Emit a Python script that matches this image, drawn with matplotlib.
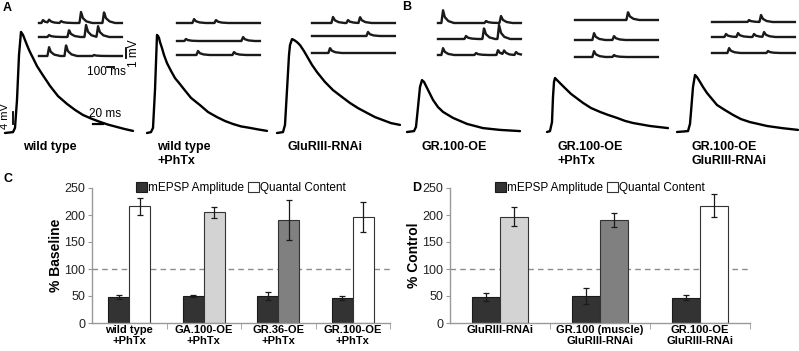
import numpy as np
import matplotlib
matplotlib.use("Agg")
import matplotlib.pyplot as plt
from matplotlib.patches import Patch

plt.rcParams['font.family'] = ['Liberation Sans', 'DejaVu Sans']

# EPSP traces, time (ms) and voltage (mV)
epsp_ms = [
    [0, 16, 20, 24, 28, 32, 36, 40, 44, 48, 52, 56, 64, 74, 82, 90, 106, 124, 140,
     156, 174, 190, 206, 224, 240, 256],
    [0, 8, 12, 16, 20, 22, 24, 26, 30, 34, 40, 48, 56, 64, 72, 88, 106, 122, 140,
     156, 172, 188, 206, 222, 240],
    [0, 12, 16, 20, 24, 26, 30, 34, 40, 46, 54, 62, 70, 80, 96, 112, 130, 146, 162,
     180, 196, 212, 228, 246],
    [0, 14, 18, 22, 26, 30, 34, 40, 46, 52, 62, 72, 82, 92, 106, 120, 136, 152, 186, 226],
    [0, 6, 10, 12, 14, 16, 20, 26, 32, 40, 48, 56, 72, 88, 106, 122, 140, 156, 172,
     206, 242],
    [0, 22, 26, 28, 32, 36, 40, 46, 52, 60, 70, 80, 96, 112, 128, 146, 162, 180, 210, 242],
]
epsp_mv = [
    [0, 0.3, 1.7, 11, 26, 33.7, 32.7, 31, 29.3, 27.7, 26.3, 25, 22.3, 19.7, 17.7, 15.7,
     12.3, 9.7, 7.7, 6, 4.7, 3.7, 2.8, 2, 1.3, 0.7],
    [0, 0.3, 1.7, 14.3, 32.7, 32.3, 31.7, 30.3, 28.3, 26, 23.3, 20.7, 18.3, 16.7, 15,
     11.7, 9.3, 7, 5.3, 4, 3, 2.2, 1.7, 1.2, 0.7],
    [0, 0.3, 2.7, 14.3, 26, 29.3, 31.3, 31, 30.3, 29.3, 27.3, 25, 22.7, 20.3, 17, 14.3,
     12, 10, 8.3, 6.7, 5.3, 4.3, 3.3, 2.7],
    [0, 0.3, 1.7, 8.3, 15, 17.3, 16.7, 14.7, 12.7, 10.7, 8.3, 6.7, 5.7, 4.7, 3.7, 2.7,
     2, 1.3, 0.7, 0.3],
    [0, 0.3, 3.3, 11.7, 16.7, 18, 17.3, 16.3, 15.3, 14, 12.7, 11.7, 9.7, 8, 6.7, 5.7,
     4.7, 3.7, 3, 2, 1.3],
    [0, 0.3, 2.7, 6.7, 15, 19, 18.3, 16.7, 15, 13, 11, 9, 7.3, 5.7, 4.3, 3.3, 2.7, 2,
     1.3, 0.7],
]
trace_labels = ["wild type", "wild type\n+PhTx", "GluRIII-RNAi",
                "GR.100-OE", "GR.100-OE\n+PhTx", "GR.100-OE\nGluRIII-RNAi"]

# spontaneous events (mEPSPs): per block, per row, event time (ms) and amplitude (mV)
mini_ms = [
    [[43, 129, 300, 586, 915], [129, 415, 658, 829], [129, 372, 772]],
    [[229, 543], [114, 929], [286, 800]],
    [[286, 500, 672], [786], [243]],
    [[57, 672, 886], [386, 643, 858], [57, 529, 843, 929, 1100]],
    [[743], [257, 543], [257, 543]],
    [[515, 686], [186, 357, 586, 729], [229, 786]],
]
mini_amp = [
    [[0.3, 0.3, 0.2, 1.1, 1.1], [0.2, 0.7, 1.2, 1.1], [0.9, 1.1, 0.1]],
    [[0.4, 0.3], [0.2, 0.4], [0.4, 0.3]],
    [[0.6, 0.3, 0.6], [0.4], [0.5]],
    [[1.3, 0.2, 0.7], [0.3, 1.1, 1.4], [0.7, 0.2, 0.5, 0.4, 0.3]],
    [[0.8], [0.7, 0.4], [0.6, 0.2]],
    [[0.2, 0.7], [0.3, 0.4, 0.3, 0.5], [0.5, 0.2]],
]

# bar charts
c_labels = ["wild type\n+PhTx", "GA.100-OE\n+PhTx", "GR.36-OE\n+PhTx", "GR.100-OE\n+PhTx"]
c_amp = [48, 50, 50, 46]
c_amp_err = [3, 2, 7, 4]
c_qc = [216, 205, 191, 196]
c_qc_err = [16, 10, 37, 28]
c_qc_colors = ["white", "#d3d3d3", "#808080", "white"]

d_labels = ["GluRIII-RNAi", "GR.100 (muscle)\nGluRIII-RNAi", "GR.100-OE\nGluRIII-RNAi"]
d_amp = [48, 50, 47]
d_amp_err = [8, 15, 5]
d_qc = [197, 190, 217]
d_qc_err = [17, 13, 21]
d_qc_colors = ["#d3d3d3", "#808080", "white"]

W, H = 799, 351
fig = plt.figure(figsize=(W / 100, H / 100), dpi=100)


def px_axes(x0, top, w, h):
    ax = fig.add_axes([x0 / W, 1 - (top + h) / H, w / W, h / H])
    ax.axis('off')
    return ax


# ---- EPSPs (2 ms per px, 3 px per mV)
MS_PX, MV_PX = 2.0, 1 / 3
epsp_x0 = [5, 147, 277, 407, 547, 677]
epsp_base = [133, 133, 133, 132, 132, 132]
label_x = [23, 157, 287, 421, 557, 692]
epsp_axes = []
for i in range(6):
    top, h, w = 20, 120, 125
    ax = px_axes(epsp_x0[i], top, w, h)
    ax.set_xlim(0, w * MS_PX)
    ax.set_ylim((epsp_base[i] - top - h) * MV_PX, (epsp_base[i] - top) * MV_PX)
    ax.plot(epsp_ms[i], epsp_mv[i], color='black', lw=1.7, clip_on=False,
            solid_joinstyle='round', solid_capstyle='round')
    epsp_axes.append(ax)
    fig.text(label_x[i] / W, 1 - 141 / H, trace_labels[i], fontsize=9,
             fontweight='bold', va='top', ha='left', linespacing=1.25)

# scale bars for EPSPs
ax = epsp_axes[0]
ax.plot([15, 15], [3, 7], color='black', lw=1.3, clip_on=False)
ax.text(0.5, 5.5, "4 mV", rotation=90, ha='center', va='center', fontsize=8)
ax.plot([176, 196], [3, 3], color='black', lw=1.6, clip_on=False)
ax.text(200, 4.4, "20 ms", ha='center', va='bottom', fontsize=8.5)

# ---- minis (100 ms per 7 px, 10 px per mV)
MMS_PX, MMV_PX = 100 / 7, 0.1
mini_x0 = [39, 177, 312, 438, 575, 712]
mini_rows = [[23, 37, 56], [23, 41, 55], [23, 36, 53],
             [23, 39, 55], [20, 40, 57], [22, 37, 53]]
kern_t = [-8, 14, 40, 90, 170]
kern_v = [0, 1, 0.45, 0.15, 0]
grid = np.arange(0, 1185, 4.0)
mini_axes = []
for b in range(6):
    top, h, w = 0, 70, 90
    ax = px_axes(mini_x0[b], top, w, h)
    ax.set_xlim(0, w * MMS_PX)
    ax.set_ylim(0, h * MMV_PX)
    for r in range(3):
        y = np.zeros_like(grid)
        for te, a in zip(mini_ms[b][r], mini_amp[b][r]):
            y += a * np.interp(grid - te, kern_t, kern_v, left=0, right=0)
        off = (70 - mini_rows[b][r]) * MMV_PX
        ax.plot(grid, y + off, color='#1a1a1a', lw=1.7, clip_on=False,
                solid_joinstyle='round')
    mini_axes.append(ax)

ax = mini_axes[0]
ax.plot([1243, 1243], [1.2, 2.2], color='black', lw=1.3, clip_on=False)
ax.text(1355, 1.7, "1 mV", rotation=90, ha='center', va='center', fontsize=8.5)
ax.plot([971, 1071], [0.35, 0.35], color='black', lw=1.3, clip_on=False)
ax.text(960, -0.2, "100 ms", ha='center', va='center', fontsize=8.5)

fig.text(3 / W, 1 - 8 / H, "A", fontsize=9, fontweight='bold', va='center')
fig.text(402 / W, 1 - 7 / H, "B", fontsize=9, fontweight='bold', va='center')
fig.text(3 / W, 1 - 179 / H, "C", fontsize=9, fontweight='bold', va='center')
fig.text(412 / W, 1 - 188 / H, "D", fontsize=9, fontweight='bold', va='center')


# ---- bar charts
def bar_panel(rect, labels, amp, amp_err, qc, qc_err, qc_colors, ylabel):
    ax = fig.add_axes(rect)
    x = np.arange(len(labels))
    w = 0.28
    ekw = dict(ecolor='#1a1a1a', elinewidth=0.9, capsize=2.5, capthick=0.9)
    ax.bar(x - w / 2, amp, w, yerr=amp_err, color='#333333', edgecolor='#1a1a1a',
           lw=0.8, error_kw=ekw, zorder=2)
    ax.bar(x + w / 2, qc, w, yerr=qc_err, color=qc_colors, edgecolor='#333333',
           lw=0.8, error_kw=ekw, zorder=2)
    ax.axhline(100, color='#8c8c8c', ls=(0, (4, 3)), lw=1.0, zorder=1)
    ax.set_xlim(-0.5, len(labels) - 0.5)
    ax.set_ylim(0, 250)
    ax.set_yticks(range(0, 251, 50))
    ax.set_xticks(x)
    ax.set_xticklabels(labels, fontweight='bold', fontsize=8, linespacing=1.15)
    ax.set_xticks(np.arange(0.5, len(labels)), minor=True)
    ax.tick_params(axis='x', which='major', length=0, pad=1.5)
    ax.tick_params(axis='x', which='minor', length=4, color='#999999')
    ax.tick_params(axis='y', length=3, color='#999999', labelsize=9, pad=2,
                   labelcolor='#222222')
    for s in ['top', 'right']:
        ax.spines[s].set_visible(False)
    for s in ['left', 'bottom']:
        ax.spines[s].set_color('#999999')
        ax.spines[s].set_linewidth(1.0)
    ax.set_ylabel(ylabel, fontsize=10, fontweight='bold')
    ax.yaxis.set_label_coords(-0.097, 0.5)
    handles = [Patch(facecolor='#333333', edgecolor='#1a1a1a', lw=0.8),
               Patch(facecolor='white', edgecolor='#333333', lw=0.8)]
    ax.legend(handles, ["mEPSP Amplitude", "Quantal Content"], loc='center',
              bbox_to_anchor=(0.5, 1.0), ncol=2, frameon=False, fontsize=8.5,
              handlelength=0.9, handleheight=0.9, handletextpad=0.15,
              columnspacing=0.3, borderaxespad=0)
    return ax


bar_panel([92 / W, 28 / H, 298 / W, 135 / H], c_labels, c_amp, c_amp_err,
          c_qc, c_qc_err, c_qc_colors, "% Baseline")
bar_panel([450 / W, 28 / H, 300 / W, 135 / H], d_labels, d_amp, d_amp_err,
          d_qc, d_qc_err, d_qc_colors, "% Control")

fig.savefig("out.png", dpi=100)
